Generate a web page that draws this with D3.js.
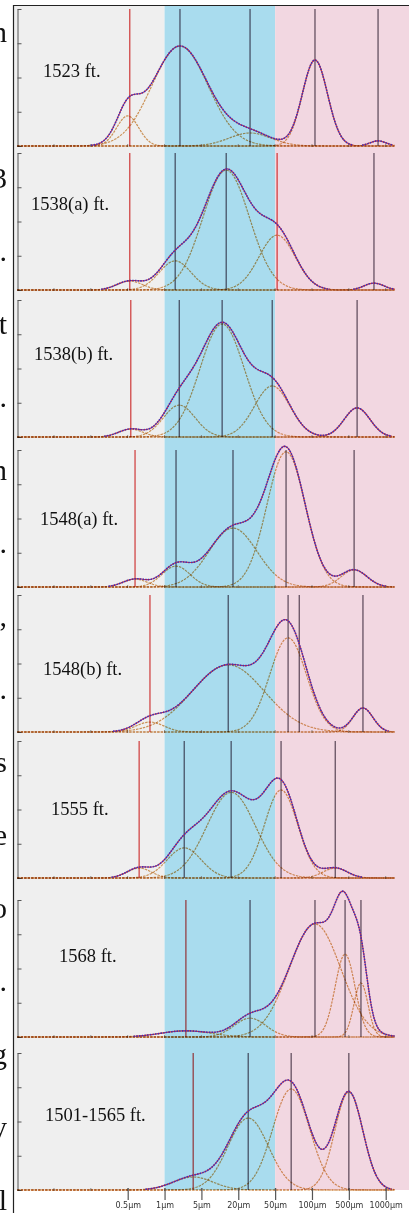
<!DOCTYPE html>
<html>
<head>
<meta charset="utf-8">
<script src="https://cdn.jsdelivr.net/npm/d3@7"></script>
<style>
  body { margin: 0; background: #fff; }
  svg { display: block; }
</style>
</head>
<body>
<div id="chart"></div>
<script>
// sample names, one panel each
const samples = ["1523 ft.", "1538(a) ft.", "1538(b) ft.", "1548(a) ft.",
  "1548(b) ft.", "1555 ft.", "1568 ft.", "1501-1565 ft."];

// fitted components: mode (µm), peak height (vol. units), spread (axis steps)
const modes = [
  [0.50, 1.96, 26.8, 114, 866],
  [0.52, 1.59, 12.7, 51.9, 802],
  [0.53, 1.90, 10.9, 46.5, 584],
  [0.574, 1.65, 16.4, 61.4, 552],
  [0.76, 13.7, 63.8, 652],
  [0.62, 2.36, 15.3, 55.9, 276],
  [2.54, 26.8, 114, 424, 628],
  [3.49, 25.6, 67.6, 500]
];
const heights = [
  [0.88, 2.92, 0.38, 2.51, 0.15],
  [0.26, 0.85, 3.50, 1.60, 0.20],
  [0.23, 0.93, 3.30, 1.49, 0.85],
  [0.23, 0.61, 1.72, 3.95, 0.50],
  [0.29, 1.96, 2.75, 0.70],
  [0.29, 0.88, 2.50, 2.57, 0.29],
  [0.18, 0.55, 3.30, 2.42, 1.58],
  [0.38, 2.10, 2.95, 2.86]
];
const spreads = [
  [0.30, 0.76, 0.57, 0.34, 0.22],
  [0.35, 0.43, 0.63, 0.49, 0.27],
  [0.33, 0.43, 0.60, 0.48, 0.35],
  [0.33, 0.38, 0.65, 0.52, 0.35],
  [0.38, 0.98, 0.50, 0.27],
  [0.33, 0.46, 0.66, 0.45, 0.33],
  [0.68, 0.43, 0.70, 0.27, 0.19],
  [0.54, 0.55, 0.50, 0.38]
];

// vertical mode markers (µm) and their kind: r = red, d = dark
const markers = [
  [0.52, 1.96, 26.8, 114, 866],
  [0.52, 1.59, 12.7, 51.9, 802],
  [0.53, 1.90, 10.9, 46.5, 584],
  [0.574, 1.65, 16.4, 61.4, 552],
  [0.76, 13.7, 63.8, 78.7, 652],
  [0.62, 2.36, 15.3, 55.9, 276],
  [2.54, 26.8, 114, 424, 628],
  [3.49, 25.6, 67.6, 500]
];
const markerKind = ["rdddd", "rddrd", "rdddd", "rdddd", "rdddd", "rdddd", "rdddd", "rddd"];

const sizeTicks = [0.5, 1, 5, 20, 50, 100, 500, 1000];
const tickLabels = ["0.5µm", "1µm", "5µm", "20µm", "50µm", "100µm", "500µm", "1000µm"];

// cut-off letters of the neighbouring text column
const marginChars = ["n", "", "3", ".", "t", ".", "n", ".", ",", ".", "s", "e", "o", ".", "g", "y", "l"];

// layout
const W = 409, H = 1213;
const frameX = 13.5, frameY = 5.5;
const panelBase = [146, 290, 437, 587, 732, 878, 1037, 1190];
const panelH = 137;
const labelPos = [[43, 77], [31, 210], [34, 360], [40, 525], [43, 675], [51, 815], [59, 962], [45, 1121]];

const svg = d3.select("#chart").append("svg")
  .attr("width", W)
  .attr("height", H)
  .attr("viewBox", `0 0 ${W} ${H}`);

// labelled sizes sit one even step apart on the axis
const u = d3.scaleLog().domain(sizeTicks).range(d3.range(sizeTicks.length));
const x = d3.scaleLinear().domain([0, 7]).range([127.7, 385.7]);
const xs = d => x(u(d));

const bottom = panelBase[panelBase.length - 1];

// size class bands
const bands = [
  { from: frameX, to: xs(1), fill: "#efefef" },
  { from: xs(1), to: xs(50), fill: "#a9dcee" },
  { from: xs(50), to: W, fill: "#f2d7e1" }
];
svg.selectAll("rect.band").data(bands).enter()
  .append("rect")
  .attr("class", "band")
  .attr("x", d => d.from)
  .attr("y", frameY)
  .attr("width", d => d.to - d.from)
  .attr("height", bottom - frameY)
  .attr("fill", d => d.fill);

// frame
svg.append("path")
  .attr("d", `M${frameX},${H}V${frameY}H${W}`)
  .attr("fill", "none")
  .attr("stroke", "#222")
  .attr("stroke-width", 1.2);

svg.selectAll("text.margin").data(marginChars).enter()
  .append("text")
  .attr("class", "margin")
  .attr("x", 7)
  .attr("y", (d, i) => 42 + i * 73)
  .attr("text-anchor", "end")
  .style("font-family", "'Liberation Serif', 'Times New Roman', serif")
  .style("font-size", "30px")
  .attr("fill", "#111")
  .text(d => d);

const grid = d3.range(-3, 7.26, 0.04);
const gauss = (t, m, h, s) => h * Math.exp(-((t - m) * (t - m)) / (2 * s * s));

samples.forEach((name, i) => {
  const base = panelBase[i];
  const y = d3.scaleLinear().domain([0, 4]).range([base, base - panelH]);
  const g = svg.append("g");

  // y axis ticks
  g.append("g")
    .attr("transform", `translate(17.5,0)`)
    .call(d3.axisRight(y).tickValues([0, 1, 2, 3, 4]).tickSize(4).tickSizeOuter(0).tickFormat(""))
    .call(a => a.selectAll("line,path").attr("stroke", "#555"));

  // minor ticks along the baseline
  g.selectAll("line.minor").data(d3.range(-2, 8)).enter()
    .append("line")
    .attr("x1", d => x(d)).attr("x2", d => x(d))
    .attr("y1", base - 2).attr("y2", base + 1)
    .attr("stroke", "#777")
    .attr("stroke-width", 0.8);

  const comps = modes[i].map((m, j) => ({
    m: u(m), h: heights[i][j], s: spreads[i][j]
  }));

  const line = d3.line().x(d => x(d[0])).y(d => y(d[1]));

  // mode markers
  g.selectAll("line.mode").data(markers[i]).enter()
    .append("line")
    .attr("x1", d => xs(d)).attr("x2", d => xs(d))
    .attr("y1", y(0)).attr("y2", y(4))
    .attr("stroke", (d, j) => markerKind[i][j] === "r" ? "#dd3c3c" : "#5e5262")
    .attr("stroke-width", 1.2)
    .style("mix-blend-mode", "multiply");

  // component curves
  comps.forEach(c => {
    g.append("path")
      .datum(grid.map(t => [t, gauss(t, c.m, c.h, c.s)]))
      .attr("d", line)
      .attr("fill", "none")
      .attr("stroke", "#d99c5c")
      .attr("stroke-width", 1.2)
      .attr("stroke-dasharray", "2.5,1")
      .style("mix-blend-mode", "multiply");
  });

  // summed distribution: fitted line with the measured dots on top
  const total = grid.map(t => [t, d3.sum(comps, c => gauss(t, c.m, c.h, c.s))]);
  const totalLine = d3.line()
    .defined(d => d[1] > 0.02)
    .x(d => x(d[0])).y(d => y(d[1]));
  g.append("path")
    .datum(total)
    .attr("d", totalLine)
    .attr("fill", "none")
    .attr("stroke", "#d2303e")
    .attr("stroke-width", 1.1);
  g.append("path")
    .datum(total)
    .attr("d", totalLine)
    .attr("fill", "none")
    .attr("stroke", "#2f2fc0")
    .attr("stroke-width", 1.6)
    .attr("stroke-dasharray", "1.5,1.2")
    .attr("opacity", 0.9);

  g.append("text")
    .attr("x", labelPos[i][0])
    .attr("y", labelPos[i][1])
    .style("font-family", "'Liberation Serif', 'Times New Roman', serif")
    .style("font-size", "18.5px")
    .attr("fill", "#111")
    .text(name);
});

// size axis
svg.append("g")
  .attr("transform", `translate(0,${bottom - 2})`)
  .call(d3.axisBottom(x).tickValues(d3.range(8)).tickFormat(i => tickLabels[i]).tickSize(12).tickPadding(2))
  .call(a => a.select(".domain").remove())
  .call(a => a.selectAll("line").attr("stroke", "#555").attr("stroke-width", 1.2))
  .call(a => a.selectAll("text")
    .style("font-family", "'DejaVu Sans', Verdana, sans-serif")
    .style("font-size", "8px")
    .attr("fill", "#333"));
</script>
</body>
</html>
